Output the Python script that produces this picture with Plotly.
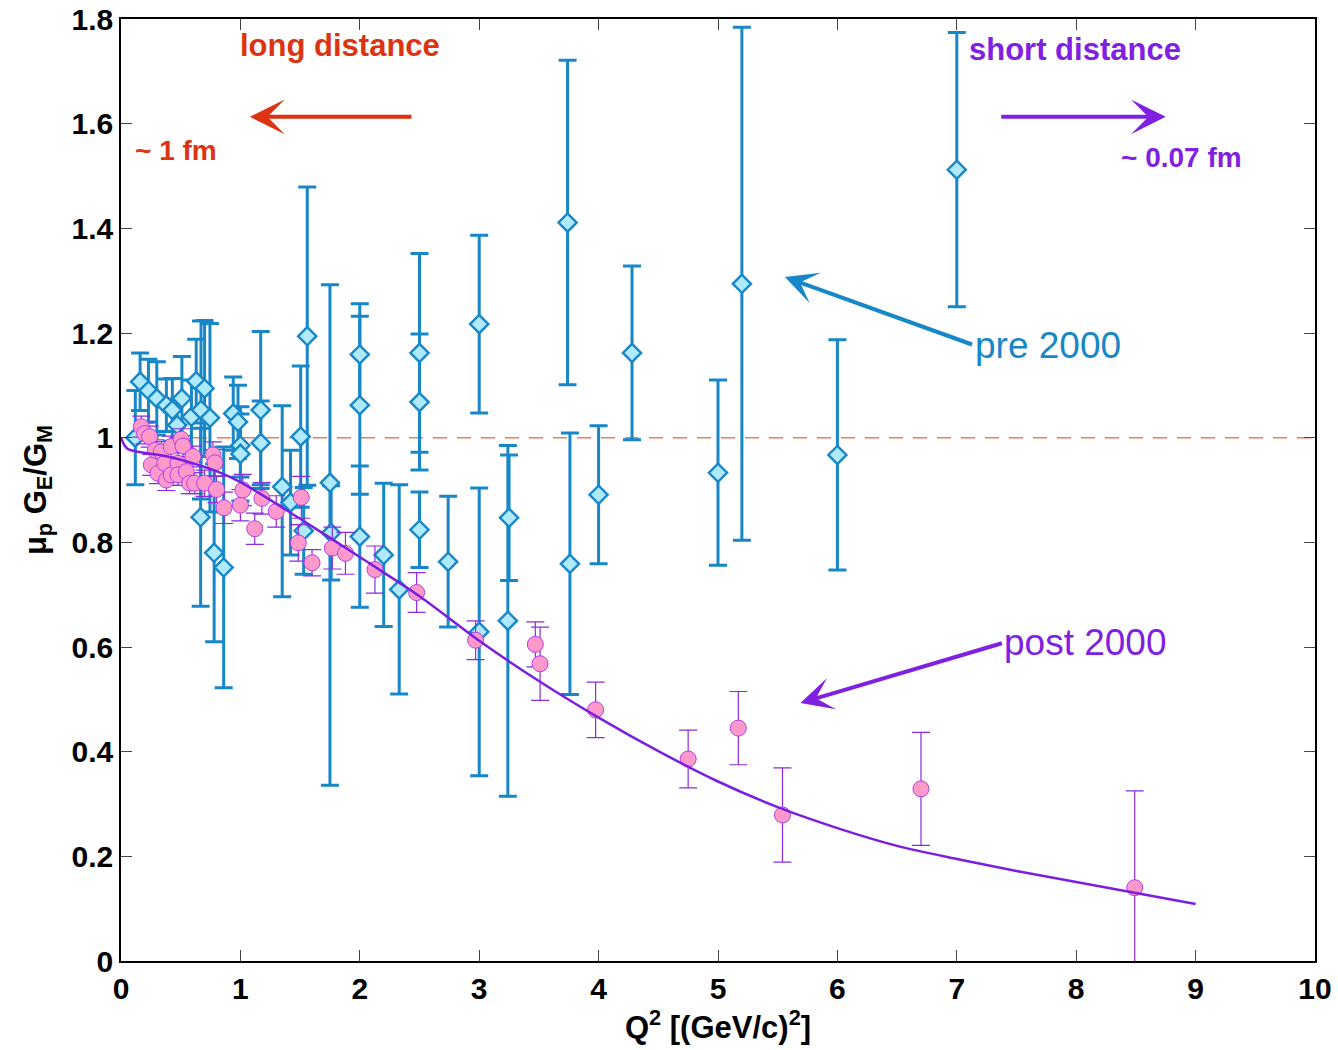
import plotly.graph_objects as go

# ---------------- data ----------------
# pre-2000 (Rosenbluth) : Q2, ratio, error(+), error(-)
pre_q2 = [0.12, 0.16, 0.23, 0.30, 0.38, 0.43, 0.47, 0.51, 0.59, 0.63, 0.67, 0.70,
          0.745, 0.94, 0.98, 1.00, 1.00, 1.17, 1.17, 0.667, 0.78, 0.86, 1.35, 1.42,
          1.505, 1.56, 1.53, 1.75, 1.76, 2.00, 2.00, 2.00, 2.20, 2.33, 2.50, 2.50,
          2.50, 2.74, 3.00, 3.00, 3.25, 3.24, 3.74, 3.76, 4.00, 4.28, 5.00, 5.20,
          6.00, 7.00]
pre_r = [1.000, 1.107, 1.090, 1.075, 1.062, 1.053, 1.024, 1.075, 1.040, 1.108, 1.053, 1.094,
         1.038, 1.046, 1.030, 0.985, 0.969, 1.053, 0.990, 0.848, 0.780, 0.752, 0.906, 0.876,
         1.002, 1.194, 0.822, 0.914, 0.818, 1.159, 1.062, 0.811, 0.776, 0.710, 1.162, 1.068,
         0.824, 0.763, 1.217, 0.629, 0.847, 0.650, 1.411, 0.759, 0.891, 1.162, 0.933, 1.294,
         0.967, 1.512]
pre_ep = [0.090, 0.055, 0.060, 0.070, 0.050, 0.060, 0.050, 0.080, 0.070, 0.080, 0.170, 0.130,
          0.180, 0.070, 0.070, 0.060, 0.090, 0.150, 0.080, 0.170, 0.170, 0.230, 0.155, 0.100,
          0.135, 0.285, 0.083, 0.378, 0.090, 0.097, 0.170, 0.135, 0.137, 0.200, 0.190, 0.130,
          0.072, 0.125, 0.170, 0.275, 0.120, 0.335, 0.310, 0.250, 0.132, 0.166, 0.177, 0.490,
          0.220, 0.262]
pre_em = [0.090, 0.055, 0.060, 0.070, 0.050, 0.060, 0.050, 0.080, 0.070, 0.080, 0.170, 0.130,
          0.180, 0.070, 0.070, 0.060, 0.090, 0.150, 0.080, 0.170, 0.170, 0.230, 0.210, 0.100,
          0.135, 0.285, 0.083, 0.578, 0.090, 0.097, 0.170, 0.135, 0.137, 0.200, 0.190, 0.130,
          0.072, 0.125, 0.170, 0.275, 0.120, 0.335, 0.310, 0.250, 0.132, 0.166, 0.177, 0.490,
          0.220, 0.262]

# post-2000 (polarization transfer)
post_q2 = [0.17, 0.198, 0.24, 0.254, 0.287, 0.31, 0.338, 0.366, 0.38, 0.42, 0.42, 0.477,
           0.477, 0.505, 0.519, 0.547, 0.575, 0.603, 0.617, 0.70, 0.77, 0.787, 0.80, 0.863,
           1.00, 1.02, 1.12, 1.18, 1.30, 1.485, 1.51, 1.60, 1.77, 1.88, 2.127, 2.476,
           2.97, 3.47, 3.51, 3.975, 4.75, 5.17, 5.54, 6.70, 8.49]
post_r = [1.021, 1.008, 1.002, 0.948, 0.976, 0.932, 0.973, 0.951, 0.919, 0.983, 0.929, 0.951,
          0.929, 0.997, 0.984, 0.935, 0.913, 0.964, 0.913, 0.913, 0.967, 0.952, 0.901, 0.866,
          0.871, 0.900, 0.826, 0.884, 0.859, 0.799, 0.886, 0.761, 0.789, 0.779, 0.748, 0.704,
          0.613, 0.605, 0.568, 0.480, 0.386, 0.445, 0.279, 0.329, 0.140]
post_e = [0.020, 0.020, 0.020, 0.020, 0.020, 0.020, 0.020, 0.020, 0.020, 0.020, 0.020, 0.020,
          0.020, 0.020, 0.020, 0.020, 0.020, 0.020, 0.020, 0.025, 0.025, 0.025, 0.025, 0.030,
          0.030, 0.030, 0.030, 0.030, 0.030, 0.035, 0.040, 0.025, 0.040, 0.040, 0.045, 0.038,
          0.037, 0.043, 0.070, 0.053, 0.055, 0.070, 0.090, 0.108, 0.185]

# fit curve
fit_q2 = [0.0, 0.03, 0.06, 0.14, 0.39, 0.645, 0.81, 1.0, 1.5, 2.0, 2.5, 3.0, 3.5, 4.0,
          4.5, 5.0, 5.5, 6.0, 6.5, 7.0, 7.5, 8.0, 8.5, 9.0]
fit_r = [1.000, 0.985, 0.978, 0.973, 0.964, 0.948, 0.935, 0.915, 0.845, 0.772, 0.697, 0.612,
         0.535, 0.465, 0.401, 0.343, 0.294, 0.254, 0.220, 0.195, 0.172, 0.151, 0.130, 0.109]

x_ticks = [0, 1, 2, 3, 4, 5, 6, 7, 8, 9, 10]
y_ticks = [0, 0.2, 0.4, 0.6, 0.8, 1.0, 1.2, 1.4, 1.6, 1.8]
y_tick_text = ["0", "0.2", "0.4", "0.6", "0.8", "1", "1.2", "1.4", "1.6", "1.8"]

# ---------------- styles ----------------
FONT = "Liberation Sans, Arial, sans-serif"
BLUE = "#1787C7"
BLUE_FILL = "#AEE9FC"
PINK = "#FF99CC"
PURPLE = "#8A2BE2"
CURVE = "#7A1FE0"
RED = "#DD3311"
VIOLET = "#8020E0"

fig = go.Figure()

fig.add_shape(type="line", xref="x", yref="y", x0=0, x1=10, y0=1, y1=1,
              line=dict(color="#F07A5A", width=1.5, dash="14px,10px"), layer="below")

fig.add_trace(go.Scatter(
    x=pre_q2, y=pre_r, mode="markers", name="pre 2000",
    marker=dict(symbol="diamond", size=14, color=BLUE_FILL, line=dict(color=BLUE, width=2.4)),
    error_y=dict(type="data", symmetric=False, array=pre_ep, arrayminus=pre_em,
                 color=BLUE, thickness=3, width=9),
))

fig.add_trace(go.Scatter(
    x=post_q2, y=post_r, mode="markers", name="post 2000",
    marker=dict(symbol="circle", size=16, color=PINK, line=dict(color="#B040E0", width=1)),
    error_y=dict(type="data", array=post_e, color=PURPLE, thickness=1.2, width=9),
))

fig.add_trace(go.Scatter(
    x=fit_q2, y=fit_r, mode="lines", name="fit",
    line=dict(color=CURVE, width=2.5, shape="spline", smoothing=0.8),
))

ann = []
ann.append(dict(x=1.834, y=1.749, text="<b>long distance</b>", showarrow=False,
                font=dict(family=FONT, size=31, color=RED)))
ann.append(dict(x=0.461, y=1.548, text="<b>~ 1 fm</b>", showarrow=False,
                font=dict(family=FONT, size=28, color=RED)))
ann.append(dict(x=7.99, y=1.741, text="<b>short distance</b>", showarrow=False,
                font=dict(family=FONT, size=31, color=VIOLET)))
ann.append(dict(x=8.878, y=1.536, text="<b>~ 0.07 fm</b>", showarrow=False,
                font=dict(family=FONT, size=28, color=VIOLET)))
ann.append(dict(x=7.764, y=1.177, text="pre 2000", showarrow=False,
                font=dict(family=FONT, size=37, color=BLUE)))
ann.append(dict(x=8.082, y=0.608, text="post 2000", showarrow=False,
                font=dict(family=FONT, size=37, color=VIOLET)))
# arrows
ann.append(dict(x=1.08, y=1.613, ax=2.445, ay=1.613, axref="x", ayref="y", text="",
                showarrow=True, arrowhead=3, arrowsize=1.45, arrowwidth=4, arrowcolor=RED))
ann.append(dict(x=8.75, y=1.613, ax=7.36, ay=1.613, axref="x", ayref="y", text="",
                showarrow=True, arrowhead=3, arrowsize=1.45, arrowwidth=4, arrowcolor=VIOLET))
ann.append(dict(x=5.56, y=1.307, ax=7.14, ay=1.177, axref="x", ayref="y", text="",
                showarrow=True, arrowhead=3, arrowsize=1.35, arrowwidth=4, arrowcolor=BLUE))
ann.append(dict(x=5.69, y=0.493, ax=7.39, ay=0.608, axref="x", ayref="y", text="",
                showarrow=True, arrowhead=3, arrowsize=1.35, arrowwidth=4, arrowcolor=VIOLET))

fig.update_layout(
    width=1338, height=1050,
    margin=dict(l=121, r=23, t=19, b=89),
    paper_bgcolor="white", plot_bgcolor="white",
    showlegend=False,
    annotations=ann,
    font=dict(family=FONT, color="black"),
    xaxis=dict(range=[0, 10], tickvals=x_ticks, ticks="inside", ticklen=11, tickwidth=1,
               tickcolor="#444", showline=True, linecolor="black", linewidth=1.5,
               mirror="ticks", showgrid=False, zeroline=False, automargin=False,
               ticklabeloverflow="allow",
               tickfont=dict(family=FONT, size=30, color="black", weight="bold"),
               title=dict(text="Q<sup>2</sup> [(GeV/c)<sup>2</sup>]", standoff=6,
                          font=dict(family=FONT, size=31, color="black", weight="bold"))),
    yaxis=dict(range=[0, 1.8], tickvals=y_ticks, ticktext=y_tick_text, ticks="inside",
               ticklen=11, tickwidth=1, tickcolor="#444", showline=True, linecolor="black",
               linewidth=1.5, mirror="ticks", showgrid=False, zeroline=False, automargin=False,
               ticklabeloverflow="allow",
               tickfont=dict(family=FONT, size=30, color="black", weight="bold"),
               title=dict(text="μ<sub>p</sub> G<sub>E</sub>/G<sub>M</sub>", standoff=16,
                          font=dict(family=FONT, size=31, color="black", weight="bold"))),
)

fig.write_html(
    "out.html",
    config={"displayModeBar": False},
    post_script="document.body.style.margin='0';document.body.style.overflow='hidden';",
)
